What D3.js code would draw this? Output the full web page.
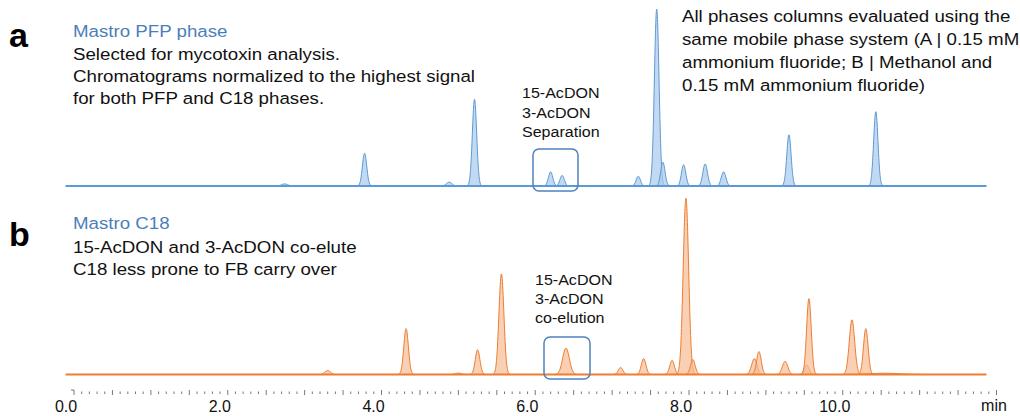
<!DOCTYPE html>
<html lang="en">
<head>
    <meta charset="UTF-8">
    <script src="https://cdn.jsdelivr.net/npm/d3@7"></script>
    <title>PFP vs C18 chromatograms</title>
    <style>
        body { margin: 0; background: #fff; }
        svg { display: block; font-family: "Liberation Sans", Arial, sans-serif; }
    </style>
</head>
<body>
<script>
// peak tables (time in min, height in % of highest signal, sigma in min)
const pfpTimes   = [2.74, 3.78, 4.88, 5.21, 6.20, 6.35, 7.34, 7.58, 7.66, 7.93, 8.21, 8.45, 9.30, 10.43]
const pfpHeights = [1.2, 18.5, 2.2, 49, 8, 6, 5.5, 100, 13.5, 12, 12.5, 8, 29, 42]
const pfpWidths  = [0.04, 0.028, 0.035, 0.028, 0.028, 0.028, 0.028, 0.03, 0.028, 0.028, 0.03, 0.03, 0.028, 0.028]

const c18Times   = [3.30, 4.32, 5.00, 5.25, 5.56, 6.40, 7.11, 7.41, 7.78, 7.96, 8.05, 8.85, 8.91, 9.25, 9.53, 9.56, 10.12, 10.30, 10.55]
const c18Heights = [2.3, 26, 0.8, 14, 57, 15, 4, 9, 8, 100, 8.5, 9, 13, 7.5, 5.5, 43, 31, 26, 0.7]
const c18Widths  = [0.035, 0.03, 0.04, 0.03, 0.032, 0.043, 0.03, 0.03, 0.03, 0.035, 0.03, 0.035, 0.03, 0.035, 0.03, 0.03, 0.035, 0.03, 0.2]

const majorTicks = [0, 2, 4, 6, 8, 10]
const tickLabels = ["0.0", "2.0", "4.0", "6.0", "8.0", "10.0"]

let width = 1020
let height = 416

let svg = d3.select("body").append("svg")
    .attr("width", width)
    .attr("height", height)

let x = d3.scaleLinear().domain([0, 12]).range([74, 996.5])
let yA = d3.scaleLinear().domain([0, 100]).range([186, 8])
let yB = d3.scaleLinear().domain([0, 100]).range([374.5, 197])

function drawTrace(times, heights, widths, y, line, fill) {
    let g = svg.append("g")
    let area = d3.area()
        .x(d => x(d[0]))
        .y0(y(0))
        .y1(d => y(d[1]))
        .curve(d3.curveBasis)
    times.forEach((t, i) => {
        let s = widths[i]
        let pts = d3.range(-4, 4.01, 0.2).map(k => [t + k * s, heights[i] * Math.exp(-0.5 * k * k)])
        g.append("path")
            .attr("d", area(pts))
            .attr("fill", fill)
            .attr("fill-opacity", 0.7)
            .attr("stroke", line)
            .attr("stroke-width", 1)
    })
    g.append("line")
        .attr("x1", x(-0.11)).attr("x2", x(11.87))
        .attr("y1", y(0)).attr("y2", y(0))
        .attr("stroke", line)
        .attr("stroke-width", 2)
}

drawTrace(pfpTimes, pfpHeights, pfpWidths, yA, "#5b9bd5", "#a9c9ec")
drawTrace(c18Times, c18Heights, c18Widths, yB, "#ed7d31", "#f7bc94")

// highlight boxes around the acetyl-DON peaks
svg.append("rect")
    .attr("x", 533).attr("y", 149).attr("width", 45).attr("height", 42)
    .attr("rx", 6)
    .attr("fill", "none").attr("stroke", "#4f81bd").attr("stroke-width", 1.5)
svg.append("rect")
    .attr("x", 544).attr("y", 337).attr("width", 46).attr("height", 42)
    .attr("rx", 6)
    .attr("fill", "none").attr("stroke", "#4f81bd").attr("stroke-width", 1.5)

// time axis
let axisY = 390
let axis = svg.append("g").attr("stroke", "#555")
axis.selectAll(".minor")
    .data(d3.range(0, 121).map(i => i / 10))
    .join("line")
    .attr("x1", d => x(d)).attr("x2", d => x(d))
    .attr("y1", (d, i) => i % 5 === 0 ? axisY : axisY + 1.5)
    .attr("y2", (d, i) => i % 5 === 0 ? axisY + 5 : axisY + 4)
    .attr("stroke-width", 0.8)
axis.append("line")
    .attr("x1", x(0) - 3).attr("x2", x(0))
    .attr("y1", axisY).attr("y2", axisY)
    .attr("stroke-width", 0.8)

svg.append("g").selectAll("text")
    .data(majorTicks)
    .join("text")
    .attr("x", d => x(d) - 8)
    .attr("y", 412)
    .attr("text-anchor", "middle")
    .attr("font-size", 16)
    .attr("fill", "#111")
    .text((d, i) => tickLabels[i])
svg.append("text")
    .attr("x", 994).attr("y", 411)
    .attr("text-anchor", "middle")
    .attr("font-size", 16)
    .attr("fill", "#111")
    .text("min")

// text block, slightly stretched horizontally like the source figure
function textBlock(lines, x0, y0, dy, size, color, sx) {
    let t = svg.append("text")
        .attr("transform", `translate(${x0},0) scale(${sx || 1},1)`)
        .attr("font-size", size)
        .attr("fill", color)
    lines.forEach((s, i) => {
        t.append("tspan").attr("x", 0).attr("y", y0 + i * dy).text(s)
    })
}

svg.append("text").attr("x", 9).attr("y", 47).attr("font-size", 34).attr("font-weight", "bold").text("a")
svg.append("text").attr("x", 9).attr("y", 246).attr("font-size", 34).attr("font-weight", "bold").text("b")

textBlock(["Mastro PFP phase"], 73, 37, 22, 17, "#4a7ebb", 1.1)
textBlock(["Selected for mycotoxin analysis.",
           "Chromatograms normalized to the highest signal",
           "for both PFP and C18 phases."], 73, 60, 22.2, 17, "#111", 1.1)

textBlock(["All phases columns evaluated using the",
           "same mobile phase system (A | 0.15 mM",
           "ammonium fluoride; B | Methanol and",
           "0.15 mM ammonium fluoride)"], 682, 22.5, 22.8, 17, "#111", 1.1)

textBlock(["Mastro C18"], 73, 229, 22, 17, "#4a7ebb", 1.1)
textBlock(["15-AcDON and 3-AcDON co-elute",
           "C18 less prone to FB carry over"], 73, 253, 22, 17, "#111", 1.1)

textBlock(["15-AcDON", "3-AcDON", "Separation"], 522, 98, 19.6, 15, "#111", 1.07)
textBlock(["15-AcDON", "3-AcDON", "co-elution"], 535, 285, 19.2, 15, "#111", 1.07)
</script>
</body>
</html>
